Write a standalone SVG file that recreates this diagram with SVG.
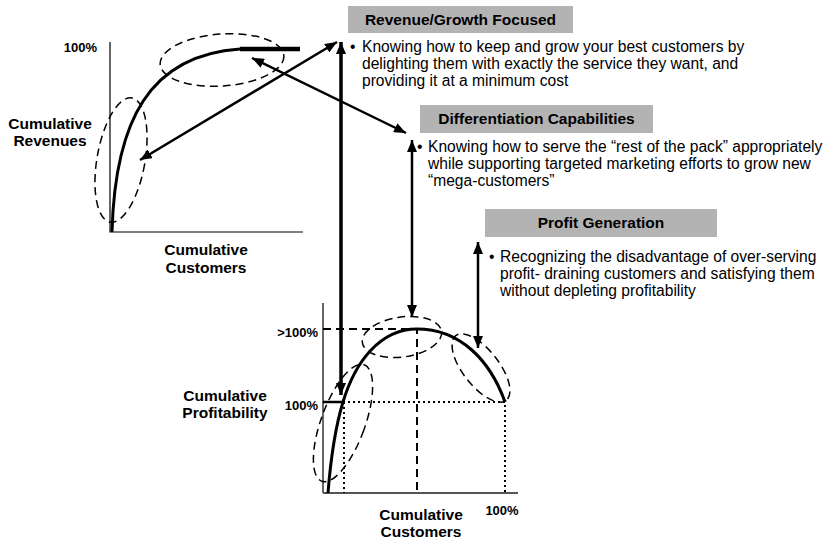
<svg xmlns="http://www.w3.org/2000/svg" width="838" height="539" viewBox="0 0 838 539">
<style>
.t{font-family:"Liberation Sans",Arial,sans-serif;font-size:15.6px;fill:#000}
.b{font-family:"Liberation Sans",Arial,sans-serif;font-size:15.5px;font-weight:bold;fill:#000}
.s{font-family:"Liberation Sans",Arial,sans-serif;font-size:13px;font-weight:bold;fill:#000}
.box{fill:#b3b3b3}
.ax{stroke:#000;stroke-width:1.2;fill:none}
.cv{stroke:#000;stroke-width:3;fill:none}
.el{stroke:#000;stroke-width:1.5;fill:none;stroke-dasharray:8 5}
.dash{stroke:#000;stroke-width:2;fill:none;stroke-dasharray:8 5}
.dot{stroke:#000;stroke-width:2;fill:none;stroke-dasharray:2 3}
.ar{stroke:#000;stroke-width:2.5;fill:none;marker-start:url(#ah);marker-end:url(#ah)}
.ar2{stroke:#000;stroke-width:3.5;fill:none;marker-start:url(#ah);marker-end:url(#ah)}
</style>
<defs>
<marker id="ah" viewBox="0 0 12 10" refX="12" refY="5" markerWidth="12" markerHeight="10" markerUnits="userSpaceOnUse" orient="auto-start-reverse">
<path d="M0,0 L12,5 L0,10 z" fill="#000"/>
</marker>
</defs>
<rect width="838" height="539" fill="#fff"/>

<g id="revenue-chart">
<path class="ax" d="M110,42 V232 H303"/>
<path class="cv" d="M112,232 C115,120 150,55 240,49"/>
<path d="M240,49 H300" stroke="#000" stroke-width="4.5" fill="none"/>
<ellipse class="el" cx="222" cy="60" rx="62" ry="26" transform="rotate(-4 222 60)"/>
<ellipse class="el" cx="121" cy="160" rx="24" ry="63" transform="rotate(10 121 160)"/>
<text class="s" x="97" y="52" text-anchor="end">100%</text>
<text class="b" x="50" y="129" text-anchor="middle">Cumulative</text>
<text class="b" x="50" y="146" text-anchor="middle">Revenues</text>
<text class="b" x="206" y="255" text-anchor="middle">Cumulative</text>
<text class="b" x="206" y="273" text-anchor="middle">Customers</text>
</g>

<g id="profit-chart">
<path d="M323,303 V493" stroke="#000" stroke-width="1.2" fill="none"/>
<path d="M323,493 H518" stroke="#555" stroke-width="2" fill="none"/>
<path class="dash" d="M323,329 H417 V493"/>
<path d="M323,402 H343" stroke="#000" stroke-width="2.5" fill="none"/>
<path class="dot" d="M343,402 H505 V493"/>
<path class="dot" d="M344,402 V493" stroke-dasharray="5 3"/>
<path class="cv" d="M328,493 C331,455 336,425 343,402 C355,362 380,329 417,329 C460,329 490,360 505,402"/>
<ellipse class="el" cx="343" cy="423" rx="22" ry="62" transform="rotate(20 343 423)"/>
<ellipse class="el" cx="402" cy="337" rx="40" ry="20" transform="rotate(-8 402 337)"/>
<ellipse class="el" cx="481" cy="368" rx="41" ry="18" transform="rotate(52 481 368)"/>
<text class="s" x="318" y="337" text-anchor="end">&gt;100%</text>
<text class="s" x="318" y="410" text-anchor="end">100%</text>
<text class="b" x="225" y="401" text-anchor="middle">Cumulative</text>
<text class="b" x="225" y="418" text-anchor="middle">Profitability</text>
<text class="s" x="502" y="515" text-anchor="middle">100%</text>
<text class="b" x="421" y="520" text-anchor="middle">Cumulative</text>
<text class="b" x="421" y="537" text-anchor="middle">Customers</text>
</g>

<g id="revenue-growth">
<rect class="box" x="348" y="6" width="225" height="27"/>
<text class="b" x="460.5" y="25" text-anchor="middle">Revenue/Growth Focused</text>
<text class="t" x="350" y="52">•</text>
<text class="t" x="362" y="52">Knowing how to keep and grow your best customers by</text>
<text class="t" x="362" y="69">delighting them with exactly the service they want, and</text>
<text class="t" x="362" y="86">providing it at a minimum cost</text>
</g>

<g id="differentiation">
<rect class="box" x="420" y="105" width="233" height="28"/>
<text class="b" x="536.5" y="124" text-anchor="middle">Differentiation Capabilities</text>
<text class="t" x="417" y="152">•</text>
<text class="t" x="428" y="152">Knowing how to serve the “rest of the pack” appropriately</text>
<text class="t" x="428" y="169">while supporting targeted marketing efforts to grow new</text>
<text class="t" x="428" y="186">“mega-customers”</text>
</g>

<g id="profit-generation">
<rect class="box" x="485" y="209" width="232" height="28"/>
<text class="b" x="601" y="228" text-anchor="middle">Profit Generation</text>
<text class="t" x="489" y="262">•</text>
<text class="t" x="500" y="262">Recognizing the disadvantage of over-serving</text>
<text class="t" x="500" y="279">profit- draining customers and satisfying them</text>
<text class="t" x="500" y="296">without depleting profitability</text>
</g>

<g id="connectors">
<path class="ar" d="M140,160 L337,42"/>
<path class="ar" d="M252,58 L406,133"/>
<path class="ar2" d="M341,42 V395"/>
<path class="ar" d="M412,140 V317"/>
<path class="ar" d="M478,242 V348"/>
</g>
</svg>
